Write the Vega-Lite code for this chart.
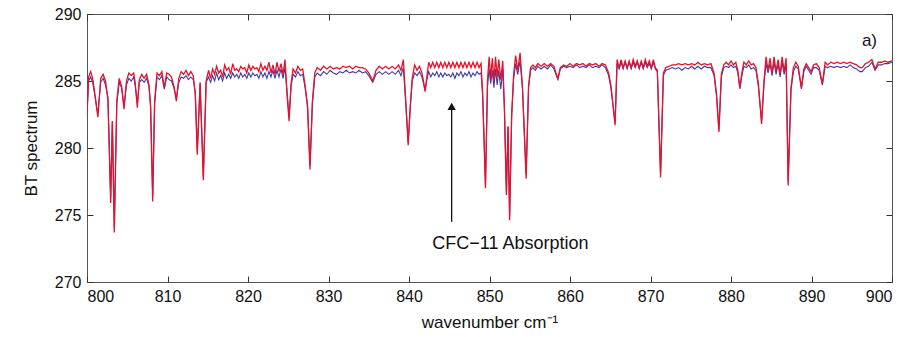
{
"$schema": "https://vega.github.io/schema/vega-lite/v6.json",
"width": 805, "height": 268,
"autosize": "none",
"padding": {"left": 87, "top": 14, "right": 32, "bottom": 55},
"background": "white",
"config": {
 "font": "Liberation Sans",
 "view": {"stroke": "#555", "strokeWidth": 1},
 "axis": {"grid": false, "domain": false, "tickColor": "#333", "tickSize": -6, "labelPadding": 12, "labelFont": "Liberation Sans", "labelFontSize": 16, "labelColor": "#111", "titleFont": "Liberation Sans", "titleFontSize": 17, "titleFontWeight": "normal", "titleColor": "#111"}
},
"datasets": {
"spec": [
{"w":800.0,"r":282.4,"b":282.6},{"w":800.2,"r":285.3,"b":285.0},{"w":800.45,"r":285.7,"b":285.3},{"w":800.7,"r":285.2,"b":284.9},{"w":800.9,"r":284.4,"b":284.2},{"w":801.35,"r":282.3,"b":282.5},{"w":801.7,"r":285.2,"b":284.9},{"w":802.0,"r":285.5,"b":285.2},{"w":802.3,"r":285.0,"b":284.7},{"w":802.6,"r":283.6,"b":283.8},{"w":802.94,"r":275.9,"b":276.3},{"w":803.15,"r":282.0,"b":282.0},{"w":803.39,"r":273.7,"b":274.1},{"w":803.7,"r":283.5,"b":283.3},{"w":804.0,"r":285.2,"b":284.9},{"w":804.3,"r":284.6,"b":284.5},{"w":804.6,"r":282.9,"b":283.1},{"w":804.9,"r":285.0,"b":284.7},{"w":805.2,"r":285.6,"b":285.2},{"w":805.5,"r":285.4,"b":285.0},{"w":805.8,"r":285.6,"b":285.3},{"w":806.0,"r":284.8,"b":284.6},{"w":806.25,"r":283.0,"b":283.3},{"w":806.5,"r":285.1,"b":284.9},{"w":806.8,"r":285.5,"b":285.1},{"w":807.1,"r":285.2,"b":284.9},{"w":807.4,"r":285.5,"b":285.2},{"w":807.7,"r":284.7,"b":284.6},{"w":807.9,"r":283.0,"b":283.2},{"w":808.16,"r":276.0,"b":276.4},{"w":808.4,"r":283.5,"b":283.3},{"w":808.7,"r":285.6,"b":285.3},{"w":809.0,"r":285.4,"b":285.1},{"w":809.3,"r":285.7,"b":285.4},{"w":809.6,"r":284.5,"b":284.4},{"w":809.9,"r":285.6,"b":285.3},{"w":810.2,"r":285.5,"b":285.1},{"w":810.5,"r":285.3,"b":285.0},{"w":810.8,"r":284.6,"b":284.5},{"w":811.1,"r":283.5,"b":283.7},{"w":811.4,"r":285.2,"b":284.9},{"w":811.7,"r":285.7,"b":285.3},{"w":812.0,"r":285.5,"b":285.2},{"w":812.3,"r":285.8,"b":285.4},{"w":812.6,"r":285.4,"b":285.1},{"w":812.9,"r":285.7,"b":285.3},{"w":813.2,"r":285.4,"b":285.1},{"w":813.45,"r":284.0,"b":284.2},{"w":813.7,"r":279.5,"b":279.8},{"w":814.05,"r":284.9,"b":284.8},{"w":814.45,"r":277.6,"b":277.9},{"w":814.8,"r":285.0,"b":284.9},
{"w":815.1,"r":285.8,"b":285.3},{"w":815.35,"r":285.2,"b":284.9},{"w":815.6,"r":285.9,"b":285.4},{"w":815.85,"r":285.5,"b":285.0},{"w":816.1,"r":286.1,"b":285.6},{"w":816.35,"r":285.6,"b":285.1},{"w":816.6,"r":285.8,"b":285.4},{"w":816.85,"r":285.3,"b":285.0},{"w":817.1,"r":286.2,"b":285.6},{"w":817.35,"r":285.8,"b":285.2},{"w":817.6,"r":286.0,"b":285.5},{"w":817.85,"r":285.5,"b":285.2},{"w":818.1,"r":286.3,"b":285.6},{"w":818.35,"r":285.8,"b":285.3},{"w":818.6,"r":285.9,"b":285.5},{"w":818.85,"r":285.7,"b":285.2},{"w":819.1,"r":286.1,"b":285.6},{"w":819.35,"r":285.9,"b":285.3},{"w":819.6,"r":286.0,"b":285.5},{"w":819.85,"r":285.6,"b":285.2},{"w":820.1,"r":286.2,"b":285.6},{"w":820.35,"r":285.8,"b":285.3},{"w":820.6,"r":286.1,"b":285.6},{"w":820.85,"r":285.9,"b":285.4},{"w":821.1,"r":286.0,"b":285.5},{"w":821.35,"r":285.7,"b":285.2},{"w":821.6,"r":286.3,"b":285.7},{"w":821.85,"r":285.8,"b":285.3},{"w":822.1,"r":286.1,"b":285.6},{"w":822.35,"r":285.8,"b":285.2},{"w":822.6,"r":286.4,"b":285.7},{"w":822.85,"r":285.6,"b":285.3},{"w":823.1,"r":286.2,"b":285.8},{"w":823.35,"r":285.5,"b":285.2},{"w":823.6,"r":286.4,"b":285.8},{"w":823.85,"r":285.7,"b":285.3},{"w":824.1,"r":286.3,"b":285.9},{"w":824.35,"r":285.5,"b":285.2},{"w":824.6,"r":286.6,"b":286.0},{"w":824.85,"r":284.0,"b":284.2},{"w":825.1,"r":282.0,"b":282.3},{"w":825.35,"r":284.8,"b":284.6},{"w":825.6,"r":285.9,"b":285.5},{"w":825.9,"r":285.6,"b":285.3},{"w":826.2,"r":286.1,"b":285.7},{"w":826.5,"r":285.8,"b":285.4},{"w":826.8,"r":285.9,"b":285.5},{"w":827.1,"r":284.6,"b":284.5},{"w":827.4,"r":283.0,"b":283.2},{"w":827.7,"r":278.4,"b":278.7},{"w":828.0,"r":283.5,"b":283.3},{"w":828.3,"r":285.6,"b":285.3},{"w":828.6,"r":286.0,"b":285.6},{"w":829.0,"r":285.8,"b":285.4},{"w":829.4,"r":286.1,"b":285.7},{"w":829.8,"r":285.9,"b":285.5},{"w":830.2,"r":286.1,"b":285.8},{"w":830.6,"r":285.9,"b":285.6},{"w":831.0,"r":286.0,"b":285.5},{"w":831.4,"r":285.9,"b":285.7},{"w":831.8,"r":286.1,"b":285.6},{"w":832.2,"r":286.0,"b":285.8},{"w":832.6,"r":286.1,"b":285.6},{"w":833.0,"r":285.9,"b":285.7},{"w":833.4,"r":286.1,"b":285.6},{"w":833.8,"r":286.0,"b":285.8},{"w":834.2,"r":286.0,"b":285.6},{"w":834.6,"r":285.9,"b":285.7},{"w":835.0,"r":285.6,"b":285.4},{"w":835.5,"r":285.0,"b":284.9},{"w":835.9,"r":285.8,"b":285.5},{"w":836.3,"r":286.1,"b":285.7},{"w":836.7,"r":285.9,"b":285.5},{"w":837.1,"r":286.1,"b":285.7},{"w":837.5,"r":285.9,"b":285.5},{"w":837.9,"r":286.1,"b":285.7},{"w":838.3,"r":285.9,"b":285.5},{"w":838.7,"r":286.2,"b":285.8},{"w":839.0,"r":285.8,"b":285.4},{"w":839.3,"r":286.6,"b":286.0},{"w":839.6,"r":283.5,"b":283.3},{"w":839.9,"r":280.2,"b":280.4},{"w":840.15,"r":283.0,"b":283.0},{"w":840.4,"r":285.2,"b":285.0},{"w":840.7,"r":286.2,"b":285.6},{"w":841.0,"r":285.8,"b":285.4},{"w":841.3,"r":286.1,"b":285.7},{"w":841.6,"r":285.6,"b":285.3},{"w":841.8,"r":285.0,"b":284.8},{"w":842.0,"r":284.2,"b":284.3},{"w":842.25,"r":285.5,"b":285.2},
{"w":842.45,"r":286.4,"b":285.7},{"w":842.7,"r":286.0,"b":285.3},{"w":842.95,"r":286.4,"b":285.6},{"w":843.2,"r":286.0,"b":285.4},{"w":843.45,"r":286.4,"b":285.7},{"w":843.7,"r":286.0,"b":285.3},{"w":843.95,"r":286.4,"b":285.6},{"w":844.2,"r":286.0,"b":285.3},{"w":844.45,"r":286.4,"b":285.6},{"w":844.7,"r":286.0,"b":285.4},{"w":844.95,"r":286.4,"b":285.5},{"w":845.2,"r":286.0,"b":285.3},{"w":845.45,"r":286.4,"b":285.6},{"w":845.7,"r":286.0,"b":285.2},{"w":845.95,"r":286.4,"b":285.6},{"w":846.2,"r":286.0,"b":285.4},{"w":846.45,"r":286.4,"b":285.7},{"w":846.7,"r":286.0,"b":285.3},{"w":846.95,"r":286.4,"b":285.6},{"w":847.2,"r":286.0,"b":285.4},{"w":847.45,"r":286.4,"b":285.7},{"w":847.7,"r":286.0,"b":285.3},{"w":847.95,"r":286.4,"b":285.6},{"w":848.2,"r":286.0,"b":285.4},{"w":848.45,"r":286.4,"b":285.7},{"w":848.7,"r":286.0,"b":285.5},{"w":848.95,"r":286.3,"b":285.6},{"w":849.15,"r":284.0,"b":284.0},{"w":849.5,"r":277.0,"b":277.3},{"w":849.75,"r":285.0,"b":284.6},{"w":849.95,"r":286.8,"b":285.9},{"w":850.15,"r":285.2,"b":284.8},{"w":850.35,"r":286.7,"b":285.8},{"w":850.55,"r":285.0,"b":284.5},{"w":850.75,"r":286.8,"b":285.9},{"w":850.95,"r":285.3,"b":284.7},{"w":851.15,"r":286.6,"b":285.8},{"w":851.4,"r":285.1,"b":284.4},{"w":851.65,"r":286.5,"b":285.9},{"w":851.85,"r":283.0,"b":283.0},{"w":852.1,"r":276.5,"b":276.8},{"w":852.3,"r":281.6,"b":281.6},{"w":852.5,"r":274.6,"b":274.9},{"w":852.75,"r":282.5,"b":282.3},{"w":853.0,"r":285.5,"b":285.2},{"w":853.25,"r":286.9,"b":286.3},{"w":853.5,"r":285.8,"b":285.5},{"w":853.8,"r":287.1,"b":286.5},{"w":854.1,"r":284.5,"b":284.4},{"w":854.55,"r":277.7,"b":278.0},{"w":854.85,"r":284.6,"b":284.5},{"w":855.1,"r":286.0,"b":285.8},{"w":855.4,"r":286.2,"b":286.0},{"w":855.7,"r":286.0,"b":285.8},{"w":856.0,"r":286.3,"b":286.1},{"w":856.4,"r":286.1,"b":285.9},{"w":856.8,"r":286.3,"b":286.1},{"w":857.2,"r":286.1,"b":285.9},{"w":857.6,"r":286.3,"b":286.2},{"w":858.0,"r":286.1,"b":285.9},{"w":858.25,"r":285.6,"b":285.5},{"w":858.5,"r":285.2,"b":285.1},{"w":858.8,"r":286.0,"b":285.9},{"w":859.2,"r":286.2,"b":286.1},{"w":859.6,"r":286.1,"b":286.0},{"w":860.0,"r":286.3,"b":286.1},{"w":860.4,"r":286.1,"b":286.0},{"w":860.8,"r":286.3,"b":286.2},{"w":861.2,"r":286.2,"b":286.0},{"w":861.6,"r":286.3,"b":286.1},{"w":862.0,"r":286.1,"b":286.0},{"w":862.4,"r":286.3,"b":286.2},{"w":862.8,"r":286.2,"b":286.0},{"w":863.2,"r":286.3,"b":286.1},{"w":863.6,"r":286.1,"b":286.0},{"w":864.0,"r":286.3,"b":286.2},{"w":864.4,"r":286.2,"b":286.0},{"w":864.8,"r":285.6,"b":285.4},{"w":865.1,"r":284.6,"b":284.4},{"w":865.6,"r":281.7,"b":281.9},
{"w":865.85,"r":286.6,"b":286.3},{"w":866.1,"r":286.0,"b":285.9},{"w":866.35,"r":286.6,"b":286.4},{"w":866.6,"r":286.0,"b":285.9},{"w":866.85,"r":286.5,"b":286.4},{"w":867.1,"r":286.0,"b":285.9},{"w":867.35,"r":286.5,"b":286.4},{"w":867.6,"r":286.0,"b":285.9},{"w":867.85,"r":286.6,"b":286.4},{"w":868.1,"r":286.1,"b":286.0},{"w":868.35,"r":286.5,"b":286.4},{"w":868.6,"r":286.0,"b":285.9},{"w":868.85,"r":286.5,"b":286.4},{"w":869.1,"r":286.0,"b":285.9},{"w":869.35,"r":286.6,"b":286.4},{"w":869.6,"r":286.1,"b":286.0},{"w":869.85,"r":286.5,"b":286.3},{"w":870.1,"r":286.0,"b":285.9},{"w":870.35,"r":286.6,"b":286.4},{"w":870.6,"r":286.0,"b":285.9},{"w":870.85,"r":285.8,"b":285.7},{"w":871.25,"r":277.8,"b":278.1},{"w":871.6,"r":285.6,"b":285.4},{"w":871.9,"r":286.0,"b":285.8},{"w":872.3,"r":286.1,"b":285.9},{"w":872.7,"r":286.2,"b":286.0},{"w":873.1,"r":286.2,"b":285.9},{"w":873.5,"r":286.3,"b":286.0},{"w":873.9,"r":286.2,"b":285.8},{"w":874.3,"r":286.3,"b":286.0},{"w":874.7,"r":286.2,"b":285.9},{"w":875.1,"r":286.3,"b":286.1},{"w":875.5,"r":286.2,"b":285.9},{"w":875.9,"r":286.4,"b":286.1},{"w":876.3,"r":286.2,"b":285.9},{"w":876.7,"r":286.3,"b":286.1},{"w":877.1,"r":286.2,"b":286.0},{"w":877.5,"r":286.3,"b":286.0},{"w":877.9,"r":285.6,"b":285.4},{"w":878.2,"r":284.0,"b":283.9},{"w":878.5,"r":281.2,"b":281.4},{"w":878.8,"r":285.5,"b":285.3},{"w":879.1,"r":286.2,"b":286.0},{"w":879.4,"r":286.4,"b":286.1},{"w":879.7,"r":286.2,"b":286.0},{"w":880.0,"r":286.5,"b":286.2},{"w":880.3,"r":286.2,"b":286.0},{"w":880.6,"r":286.4,"b":286.1},{"w":880.85,"r":285.8,"b":285.6},{"w":881.1,"r":284.5,"b":284.4},{"w":881.35,"r":285.6,"b":285.4},{"w":881.6,"r":286.4,"b":286.1},{"w":881.9,"r":286.2,"b":286.0},{"w":882.2,"r":286.5,"b":286.2},{"w":882.5,"r":286.2,"b":285.9},{"w":882.8,"r":286.3,"b":286.0},{"w":883.1,"r":286.0,"b":285.8},{"w":883.4,"r":284.8,"b":284.6},{"w":883.8,"r":281.8,"b":282.0},{"w":884.1,"r":285.0,"b":284.8},{"w":884.35,"r":286.8,"b":286.3},{"w":884.6,"r":285.8,"b":285.6},{"w":884.85,"r":286.7,"b":286.3},{"w":885.1,"r":285.6,"b":285.4},{"w":885.35,"r":286.8,"b":286.4},{"w":885.6,"r":285.7,"b":285.5},{"w":885.85,"r":286.6,"b":286.3},{"w":886.1,"r":285.5,"b":285.3},{"w":886.35,"r":286.8,"b":286.4},{"w":886.6,"r":285.7,"b":285.5},{"w":886.85,"r":286.7,"b":286.3},{"w":887.1,"r":277.2,"b":277.5},{"w":887.45,"r":284.5,"b":284.3},{"w":887.75,"r":286.0,"b":285.7},{"w":888.05,"r":286.4,"b":286.1},{"w":888.35,"r":286.1,"b":285.9},{"w":888.75,"r":284.5,"b":284.4},{"w":889.05,"r":285.9,"b":285.7},{"w":889.35,"r":286.3,"b":286.1},{"w":889.65,"r":286.0,"b":285.8},{"w":889.95,"r":285.7,"b":285.5},{"w":890.25,"r":286.2,"b":286.0},{"w":890.6,"r":286.3,"b":286.0},{"w":890.95,"r":286.0,"b":285.8},{"w":891.35,"r":284.8,"b":284.7},{"w":891.7,"r":286.4,"b":286.1},{"w":892.0,"r":286.2,"b":286.0},{"w":892.4,"r":286.4,"b":286.1},{"w":892.8,"r":286.3,"b":286.0},{"w":893.2,"r":286.4,"b":286.1},{"w":893.6,"r":286.3,"b":286.0},{"w":894.0,"r":286.4,"b":286.1},{"w":894.4,"r":286.3,"b":286.0},{"w":894.8,"r":286.4,"b":286.2},{"w":895.2,"r":286.3,"b":286.0},{"w":895.6,"r":286.2,"b":285.9},{"w":896.0,"r":286.0,"b":285.7},{"w":896.3,"r":286.0,"b":285.7},{"w":896.7,"r":286.3,"b":286.0},{"w":897.1,"r":286.4,"b":286.1},{"w":897.5,"r":286.6,"b":286.4},{"w":897.9,"r":285.9,"b":285.8},{"w":898.3,"r":286.4,"b":286.2},{"w":898.7,"r":286.4,"b":286.2},{"w":899.1,"r":286.5,"b":286.3},{"w":899.5,"r":286.4,"b":286.3},{"w":900.0,"r":286.5,"b":286.4}
],
"arrow": [{"x": 845.3, "y": 274.5, "y2": 282.9}],
"head": [{"x": 845.3, "y": 283.1}],
"labels": [{"x": 852.6, "y": 272.5, "t": "CFC−11 Absorption", "s": 18, "a": "center"}, {"x": 897.2, "y": 287.6, "t": "a)", "s": 17, "a": "left"}]
},
"layer": [
 {"data": {"name": "spec"},
  "mark": {"type": "line", "color": "#3c3ca0", "strokeWidth": 1.1, "clip": true},
  "encoding": {
   "x": {"field": "w", "type": "quantitative", "scale": {"domain": [800, 900], "nice": false, "zero": false},
         "axis": {"orient": "bottom", "values": [800,810,820,830,840,850,860,870,880,890,900], "title": "wavenumber cm⁻¹", "titlePadding": 10}},
   "y": {"field": "b", "type": "quantitative", "scale": {"domain": [270, 290], "nice": false, "zero": false},
         "axis": {"orient": "left", "values": [270,275,280,285,290], "title": "BT spectrum", "titlePadding": 14}}
  }},
 {"data": {"name": "spec"},
  "mark": {"type": "line", "color": "#e8102c", "strokeWidth": 1.3, "clip": true},
  "encoding": {
   "x": {"field": "w", "type": "quantitative", "axis": {"orient": "top", "values": [800,810,820,830,840,850,860,870,880,890,900], "labels": false, "title": null}},
   "y": {"field": "r", "type": "quantitative", "axis": {"orient": "right", "values": [270,275,280,285,290], "labels": false, "title": null}}
  }},
 {"data": {"name": "arrow"},
  "mark": {"type": "rule", "color": "#111", "strokeWidth": 1.3},
  "encoding": {
   "x": {"field": "x", "type": "quantitative", "axis": null},
   "y": {"field": "y", "type": "quantitative", "axis": null},
   "y2": {"field": "y2"}
  }},
 {"data": {"name": "head"},
  "mark": {"type": "point", "shape": "triangle-up", "filled": true, "color": "#111", "size": 70, "opacity": 1},
  "encoding": {
   "x": {"field": "x", "type": "quantitative", "axis": null},
   "y": {"field": "y", "type": "quantitative", "axis": null}
  }},
 {"data": {"name": "labels"},
  "mark": {"type": "text", "color": "#111", "baseline": "alphabetic", "font": "Liberation Sans"},
  "encoding": {
   "x": {"field": "x", "type": "quantitative", "axis": null},
   "y": {"field": "y", "type": "quantitative", "axis": null},
   "text": {"field": "t"},
   "size": {"field": "s", "type": "quantitative", "scale": null},
   "align": {"field": "a", "type": "nominal", "scale": null}
  }}
],
"resolve": {"axis": {"x": "independent", "y": "independent"}}
}
